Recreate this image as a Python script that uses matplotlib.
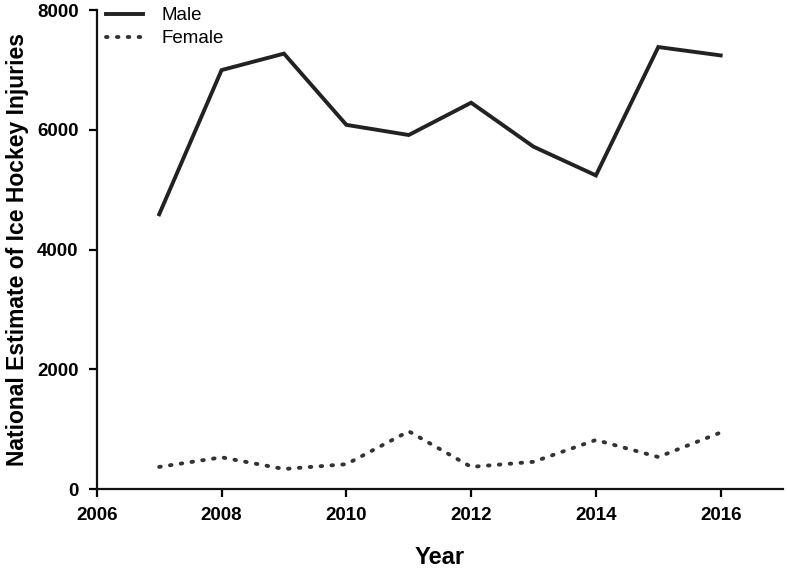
import matplotlib
matplotlib.use("Agg")
import matplotlib.pyplot as plt

# Values
years = [2007, 2008, 2009, 2010, 2011, 2012, 2013, 2014, 2015, 2016]
male = [4590, 7000, 7275, 6085, 5915, 6455, 5720, 5240, 7385, 7245]
female = [370, 530, 335, 415, 965, 370, 455, 820, 535, 945]

x_ticks = [2006, 2008, 2010, 2012, 2014, 2016]
y_ticks = [0, 2000, 4000, 6000, 8000]

plt.rcParams['font.family'] = ['Liberation Sans', 'DejaVu Sans']

fig = plt.figure(figsize=(7.87, 5.68), dpi=100)
ax = fig.add_axes([0.123, 0.139, 0.872, 0.843])

ax.plot(years, male, color='#222222', lw=2.8, solid_joinstyle='miter', label='Male')
ax.plot(years, female, color='#333333', lw=2.8, linestyle=(0, (0.4, 2.4)),
        dash_capstyle='round', label='Female')

ax.set_xlim(2006, 2017)
ax.set_ylim(0, 8000)
ax.set_xticks(x_ticks)
ax.set_yticks(y_ticks)

for s in ['top', 'right']:
    ax.spines[s].set_visible(False)
for s in ['left', 'bottom']:
    ax.spines[s].set_linewidth(1.6)
    ax.spines[s].set_color('#111111')

ax.tick_params(direction='out', length=6, width=1.6, labelsize=13.5, pad=7)
for lbl in ax.get_xticklabels() + ax.get_yticklabels():
    lbl.set_fontweight('bold')

ax.set_xlabel('Year', fontsize=17, fontweight='bold', labelpad=16)
ax.set_ylabel('National Estimate of Ice Hockey Injuries', fontsize=16.5,
              fontweight='bold', labelpad=6)

ax.legend(loc='upper left', frameon=False, fontsize=13.5, handlelength=2.0,
          handletextpad=1.0, borderaxespad=0.0, borderpad=0.1, labelspacing=0.3,
          bbox_to_anchor=(0.01, 1.01))

fig.savefig('out.png', dpi=100)
